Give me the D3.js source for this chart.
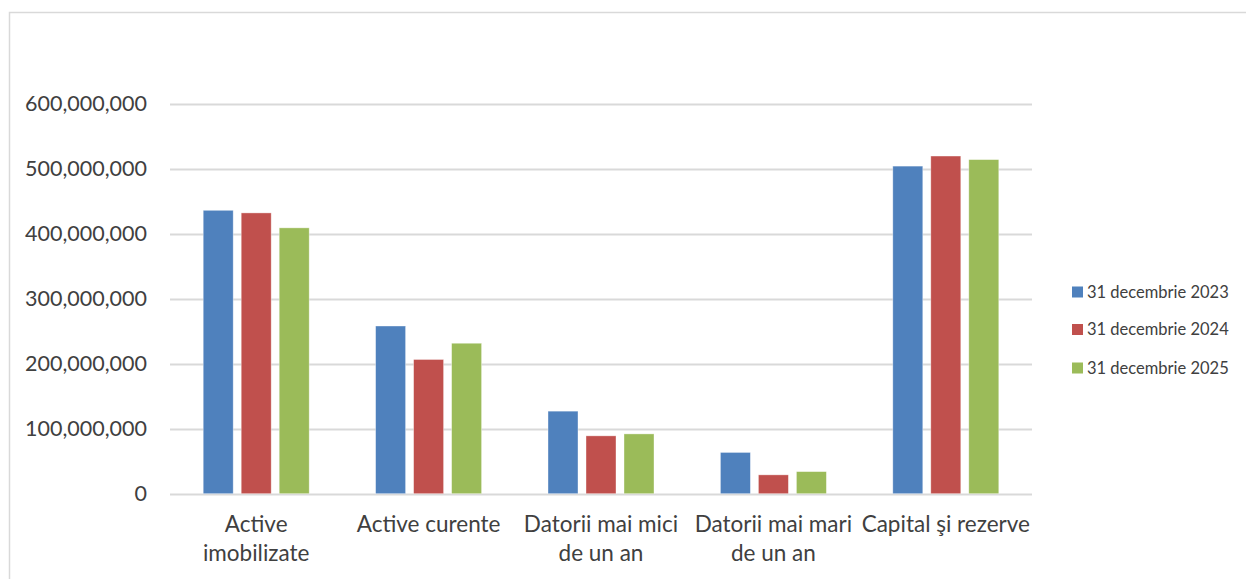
<!DOCTYPE html>
<html>
<head>
<meta charset="utf-8">
<script src="https://cdn.jsdelivr.net/npm/d3@7"></script>
<style>
  body { margin: 0; background: #fff; }
  text { font-family: Lato, "Open Sans", sans-serif; fill: #404040; }
</style>
</head>
<body>
<div id="chart"></div>
<script>
// data
var categories = [
  ["Active", "imobilizate"],
  ["Active curente"],
  ["Datorii mai mici", "de un an"],
  ["Datorii mai mari", "de un an"],
  ["Capital şi rezerve"]
];
var seriesNames = ["31 decembrie 2023", "31 decembrie 2024", "31 decembrie 2025"];
var seriesColors = ["#4F81BD", "#C0504D", "#9BBB59"];
var values2023 = [436000000, 258000000, 127000000, 63500000, 504000000];
var values2024 = [432000000, 206500000, 89000000, 29000000, 519500000];
var values2025 = [409000000, 231500000, 92000000, 34000000, 514000000];
var yTicks = [0, 100000000, 200000000, 300000000, 400000000, 500000000, 600000000];

var seriesValues = [values2023, values2024, values2025];

var width = 1246, height = 579;
var plotLeft = 170, plotRight = 1032, plotTop = 103.7, plotBottom = 493.7;

var svg = d3.select("#chart").append("svg")
  .attr("width", width)
  .attr("height", height);

// chart frame
svg.append("rect")
  .attr("x", 9.5).attr("y", 12.5)
  .attr("width", 1300).attr("height", 700)
  .attr("fill", "none")
  .attr("stroke", "#D9D9D9")
  .attr("stroke-width", 1.5);

var catKeys = categories.map(function (c, i) { return i; });

var x0 = d3.scaleBand()
  .domain(catKeys)
  .range([plotLeft, plotRight])
  .padding(0);

var bw = x0.bandwidth();
var x1 = d3.scaleBand()
  .domain(d3.range(seriesNames.length))
  .range([bw / 2 - 53, bw / 2 + 53])
  .paddingInner(8 / 38)
  .paddingOuter(0);

var y = d3.scaleLinear()
  .domain([0, 600000000])
  .range([plotBottom, plotTop]);

// gridlines
svg.append("g")
  .selectAll("line")
  .data(yTicks)
  .join("line")
  .attr("x1", plotLeft)
  .attr("x2", plotRight)
  .attr("y1", function (d) { return Math.round(y(d)) + 0.5; })
  .attr("y2", function (d) { return Math.round(y(d)) + 0.5; })
  .attr("stroke", "#D9D9D9")
  .attr("stroke-width", 2);

// y axis labels
var fmt = d3.format(",");
svg.append("g")
  .selectAll("text")
  .data(yTicks)
  .join("text")
  .attr("x", 147)
  .attr("y", function (d) { return y(d); })
  .attr("dy", "0.35em")
  .attr("text-anchor", "end")
  .style("font-size", "21.5px")
  .text(function (d) { return fmt(d); });

// bars
var groups = svg.append("g")
  .selectAll("g")
  .data(catKeys)
  .join("g")
  .attr("transform", function (d) { return "translate(" + x0(d) + ",0)"; });

groups.selectAll("rect")
  .data(function (ci) {
    return seriesValues.map(function (vals, si) { return { si: si, v: vals[ci] }; });
  })
  .join("rect")
  .attr("x", function (d) { return x1(d.si); })
  .attr("y", function (d) { return y(d.v); })
  .attr("width", x1.bandwidth())
  .attr("height", function (d) { return y(0) - y(d.v); })
  .attr("fill", function (d) { return seriesColors[d.si]; })
  .attr("stroke", "#ffffff")
  .attr("stroke-opacity", 0.5)
  .attr("stroke-width", 0.75);

// category labels
var catLabels = svg.append("g")
  .selectAll("text")
  .data(catKeys)
  .join("text")
  .attr("text-anchor", "middle")
  .style("font-size", "22.5px")
  .attr("x", function (d) { return x0(d) + bw / 2; })
  .attr("y", 532);
catLabels.selectAll("tspan")
  .data(function (d) { return categories[d]; })
  .join("tspan")
  .attr("x", function () { return d3.select(this.parentNode).attr("x"); })
  .attr("dy", function (d, i) { return i === 0 ? 0 : 29; })
  .text(function (d) { return d; });

// legend
var legend = svg.append("g")
  .attr("transform", "translate(1072,0)");
var legendY = [292, 329.5, 368];
var items = legend.selectAll("g")
  .data(seriesNames)
  .join("g")
  .attr("transform", function (d, i) { return "translate(0," + legendY[i] + ")"; });
items.append("rect")
  .attr("x", 0).attr("y", -5.5)
  .attr("width", 11).attr("height", 11)
  .attr("fill", function (d, i) { return seriesColors[i]; });
items.append("text")
  .attr("x", 15)
  .attr("y", 0)
  .attr("dy", "0.35em")
  .style("font-size", "16.5px")
  .text(function (d) { return d; });
</script>
</body>
</html>
